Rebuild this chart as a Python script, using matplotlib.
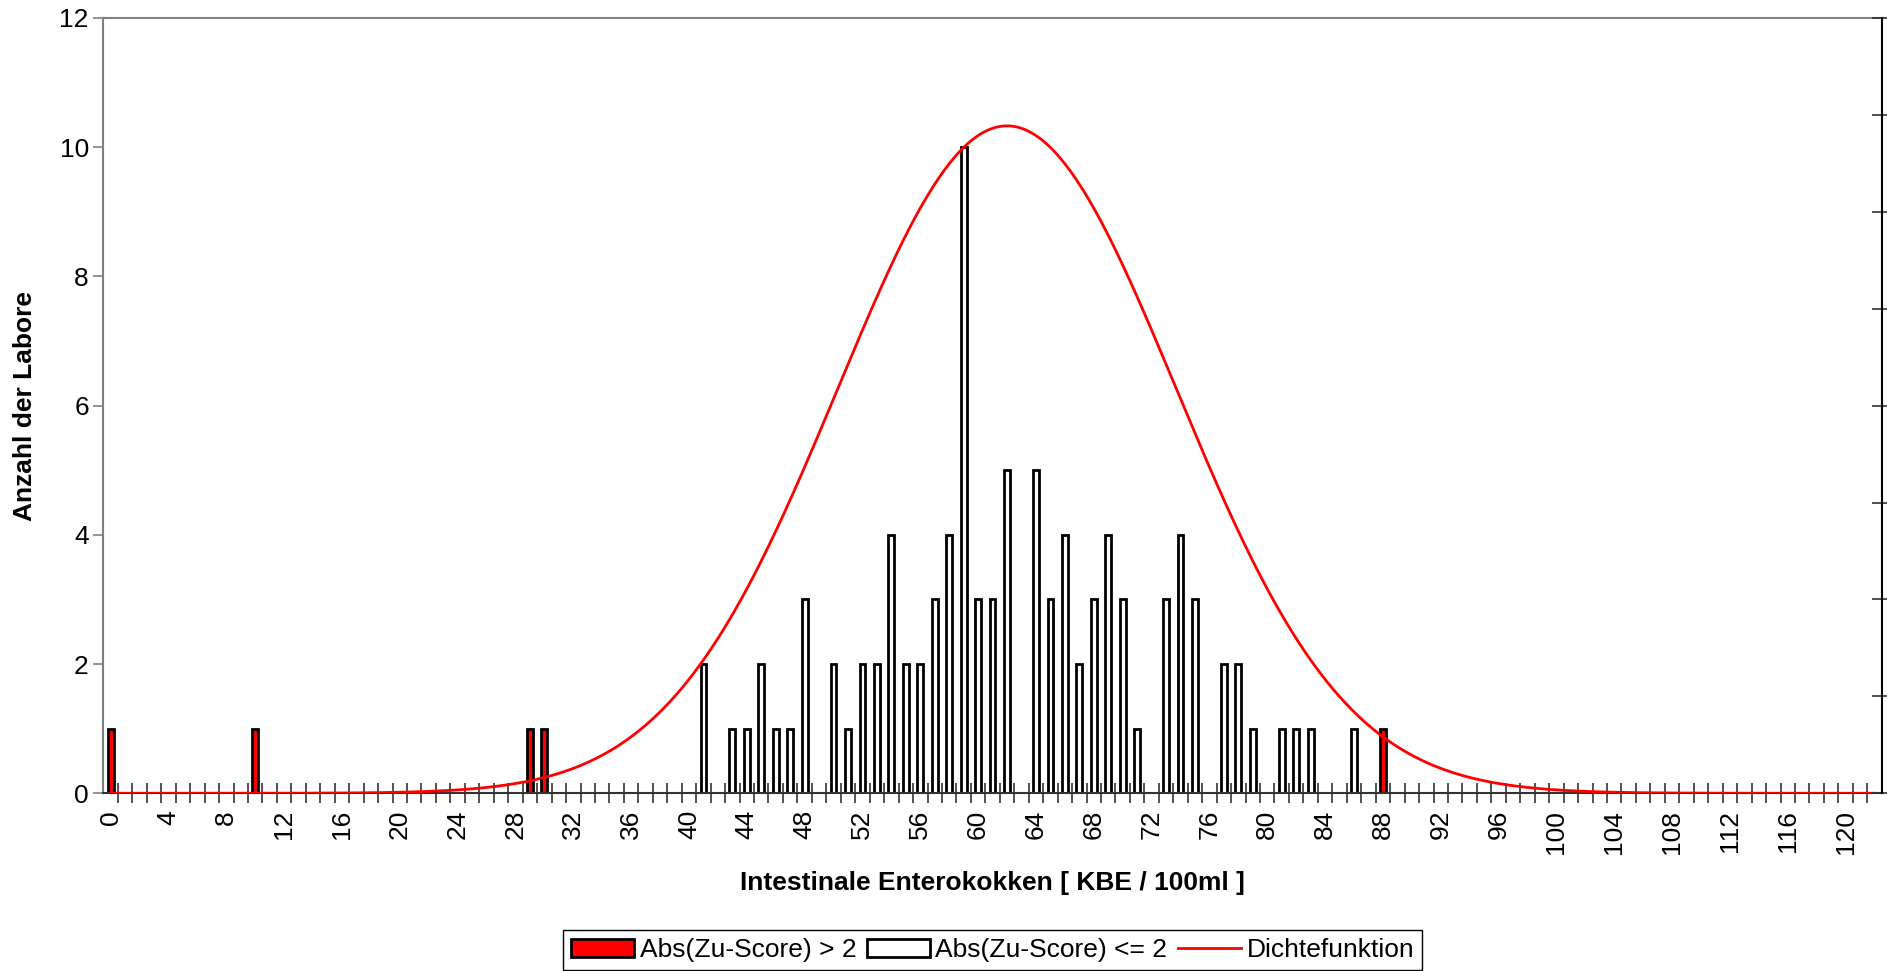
import numpy as np
import matplotlib.pyplot as plt
from matplotlib.patches import Patch
from matplotlib.lines import Line2D

plt.rcParams['font.family'] = ['Liberation Sans', 'DejaVu Sans']

# categories on the x axis (KBE / 100ml)
categories = np.arange(0, 123)
tick_labels = [str(c) for c in range(0, 121, 4)]

# Abs(Zu-Score) > 2
red_x = [0, 10, 29, 30, 88]
red_n = [1, 1, 1, 1, 1]

# Abs(Zu-Score) <= 2
white_x = [41, 43, 44, 45, 46, 47, 48, 50, 51, 52, 53, 54, 55, 56, 57, 58, 59,
           60, 61, 62, 64, 65, 66, 67, 68, 69, 70, 71, 73, 74, 75, 77, 78, 79,
           81, 82, 83, 86]
white_n = [2, 1, 1, 2, 1, 1, 3, 2, 1, 2, 2, 4, 2, 2, 3, 4, 10,
           3, 3, 5, 5, 3, 4, 2, 3, 4, 3, 1, 3, 4, 3, 2, 2, 1,
           1, 1, 1, 1]

# density function (normal)
dens_mean = 62.0
dens_sd = 11.7
dens_peak = 10.33

fig = plt.figure(figsize=(18.87, 9.71), dpi=100)
ax = fig.add_axes([0.0548, 0.183, 0.9424, 0.7985])

w = 0.4
ax.bar(white_x, white_n, width=w, color='white', edgecolor='black', linewidth=2, zorder=2)
ax.bar(red_x, red_n, width=w, color='#FF0000', edgecolor='black', linewidth=2, zorder=2)

xs = np.linspace(categories[0], categories[-1], 600)
ys = dens_peak * np.exp(-0.5 * ((xs - dens_mean) / dens_sd) ** 2)
ax.plot(xs, ys, color='#FF0000', linewidth=2, zorder=3)

ax.set_xlim(-0.5, 122.5)
ax.set_ylim(0, 12)

# x axis: labels every 4, tick marks between categories
ax.set_xticks(range(0, 121, 4))
ax.set_xticklabels(tick_labels, rotation=90)
ax.set_xticks(np.arange(0.5, 122.5, 1), minor=True)
ax.tick_params(axis='x', which='major', length=0, pad=12, labelsize=19)
ax.tick_params(axis='x', which='minor', direction='inout', length=14, width=1.2, color='#333333')

ax.set_yticks(range(0, 13, 2))
ax.tick_params(axis='y', which='major', direction='out', length=7, width=1.2, labelsize=19, color='#808080')

# right axis with 8 intervals, no labels
ax2 = ax.twinx()
ax2.set_ylim(0, 8)
ax2.set_yticks(range(0, 9))
ax2.set_yticklabels([])
ax2.tick_params(axis='y', direction='inout', length=14, width=1.2, color='#333333')
for s in ['left', 'top', 'bottom']:
    ax2.spines[s].set_visible(False)
ax2.spines['right'].set_color('black')
ax2.spines['right'].set_linewidth(1.5)

ax.spines['left'].set_color('#808080')
ax.spines['top'].set_color('#808080')
ax.spines['right'].set_visible(False)
ax.spines['bottom'].set_color('#333333')
for s in ['left', 'top', 'bottom']:
    ax.spines[s].set_linewidth(1.5)

ax.set_xlabel('Intestinale Enterokokken [ KBE / 100ml ]', fontsize=19, fontweight='bold', labelpad=12)
ax.set_ylabel('Anzahl der Labore', fontsize=19, fontweight='bold', labelpad=16)

handles = [Patch(facecolor='#FF0000', edgecolor='black', linewidth=2),
           Patch(facecolor='white', edgecolor='black', linewidth=2),
           Line2D([0], [0], color='#FF0000', linewidth=2)]
labels = ['Abs(Zu-Score) > 2', 'Abs(Zu-Score) <= 2', 'Dichtefunktion']
leg = ax.legend(handles, labels, loc='lower center', bbox_to_anchor=(0.5, -0.228),
                ncol=3, fontsize=19, frameon=True, fancybox=False, framealpha=1,
                edgecolor='black', handlelength=2.4, handleheight=0.7,
                handletextpad=0.2, columnspacing=0.4, borderpad=0.3, borderaxespad=0)
leg.get_frame().set_linewidth(1.0)

fig.savefig('out.png', dpi=100)
